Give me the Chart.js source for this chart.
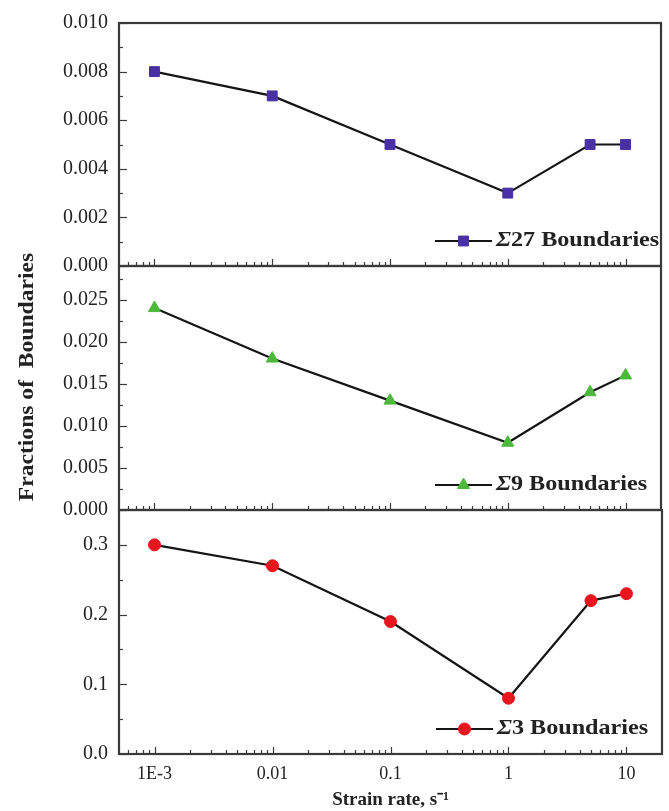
<!DOCTYPE html>
<html>
<head>
<meta charset="utf-8">
<script src="https://cdn.jsdelivr.net/npm/chart.js@4.4.0/dist/chart.umd.min.js"></script>
<style>
  html, body { margin: 0; padding: 0; background: #fff; }
  #wrap { position: relative; width: 669px; height: 811px; }
  #wrap canvas { position: absolute; left: 0; top: 0; }
</style>
</head>
<body>
<div id="wrap">
  <canvas id="c27" width="669" height="811"></canvas>
  <canvas id="c9" width="669" height="811"></canvas>
  <canvas id="c3" width="669" height="811"></canvas>
</div>
<script>
// strain rate, s^-1 (log axis)
var strainRates = [0.001, 0.01, 0.1, 1, 5, 10];

// fractions of boundaries, one array per panel
var sigma27 = [0.008, 0.007, 0.005, 0.003, 0.005, 0.005];
var sigma9 = [0.024, 0.018, 0.013, 0.008, 0.014, 0.016];
var sigma3 = [0.30, 0.27, 0.19, 0.08, 0.22, 0.23];

var xTickValues = [0.001, 0.01, 0.1, 1, 10];
var xTickLabels = ['1E-3', '0.01', '0.1', '1', '10'];
var yTicks27 = [0, 0.002, 0.004, 0.006, 0.008, 0.010];
var yTicks9 = [0, 0.005, 0.010, 0.015, 0.020, 0.025];
var yTicks3 = [0, 0.1, 0.2, 0.3];

var W = 669, H = 811;
var plotLeft = 119, plotRight = 663;
var xMin = 0.0005, xMax = 20;
var serif = '"Liberation Serif", "Times New Roman", serif';
var ink = '#222';

function line(ctx, x1, y1, x2, y2) {
    ctx.beginPath(); ctx.moveTo(x1, y1); ctx.lineTo(x2, y2); ctx.stroke();
}

// frame, inward ticks and the little legend in the corner
var panelDecor = {
    id: 'panelDecor',
    afterDraw: function (chart) {
        var ctx = chart.ctx, a = chart.chartArea;
        var xs = chart.scales.x, ys = chart.scales.y;
        ctx.save();
        ctx.strokeStyle = '#3a3a3a';
        ctx.lineWidth = 1.2;
        // log ticks along the bottom edge
        for (var e = -4; e <= 1; e++) {
            for (var k = 1; k <= 9; k++) {
                var v = k * Math.pow(10, e);
                if (v <= xs.min || v >= xs.max) continue;
                var px = Math.round(xs.getPixelForValue(v)) + 0.5;
                line(ctx, px, a.bottom, px, a.bottom - (k === 1 ? 7 : 4));
            }
        }
        // y ticks, major + half steps
        var step = ys.ticks[1].value - ys.ticks[0].value;
        ys.ticks.forEach(function (t) {
            var py = Math.round(ys.getPixelForValue(t.value)) + 0.5;
            line(ctx, a.left, py, a.left + 8, py);
            var mv = t.value + step / 2;
            if (mv < ys.max) {
                var my = Math.round(ys.getPixelForValue(mv)) + 0.5;
                line(ctx, a.left, my, a.left + 4, my);
            }
        });
        // frame
        ctx.lineWidth = 2.2;
        ctx.strokeStyle = '#3a3a3a';
        ctx.strokeRect(a.left, a.top, a.right - a.left, a.bottom - a.top);

        // legend
        var ds = chart.data.datasets[0];
        var ly = a.bottom - 25, lx0 = a.right - 226, lx1 = a.right - 169;
        ctx.strokeStyle = '#151515';
        ctx.lineWidth = 2;
        line(ctx, lx0, ly, lx1, ly);
        ctx.fillStyle = ds.pointBackgroundColor;
        ctx.strokeStyle = ds.pointBorderColor;
        ctx.lineWidth = 1;
        Chart.helpers.drawPoint(ctx, { pointStyle: ds.pointStyle, radius: ds.pointRadius, rotation: 0, borderWidth: 1 }, (lx0 + lx1) / 2, ly);
        // text is a bit wide in the original, stretch it
        ctx.translate(lx1 + 4, ly);
        ctx.scale(1.15, 1);
        ctx.fillStyle = ink;
        ctx.textBaseline = 'middle';
        ctx.textAlign = 'left';
        ctx.font = 'italic bold 21px ' + serif;
        ctx.fillText(ds.label.charAt(0), 0, 0);
        var tx = ctx.measureText(ds.label.charAt(0)).width;
        ctx.font = 'bold 21px ' + serif;
        ctx.fillText(ds.label.slice(1), tx, 0);
        ctx.restore();
    }
};

// shared y title across all three panels
var yTitle = {
    id: 'yTitle',
    afterDraw: function (chart) {
        var ctx = chart.ctx;
        ctx.save();
        ctx.translate(28, 377);
        ctx.rotate(-Math.PI / 2);
        ctx.scale(1.18, 1);
        ctx.fillStyle = ink;
        ctx.textAlign = 'center';
        ctx.textBaseline = 'middle';
        ctx.font = 'bold 20px ' + serif;
        ctx.fillText('Fractions of  Boundaries', 0, 0);
        ctx.restore();
    }
};

function makePanel(id, label, values, yTicks, yMax, decimals, top, bottom, marker, showX) {
    var data = strainRates.map(function (x, i) { return { x: x, y: values[i] }; });
    var extra = [panelDecor];
    if (showX) extra.push(yTitle);
    return new Chart(document.getElementById(id), {
        type: 'line',
        data: {
            datasets: [{
                label: label,
                data: data,
                borderColor: '#151515',
                borderWidth: 2.2,
                tension: 0,
                pointStyle: marker.shape,
                pointRadius: marker.radius,
                pointBackgroundColor: marker.color,
                pointBorderColor: marker.color,
                pointBorderWidth: 1
            }]
        },
        options: {
            responsive: false,
            animation: false,
            devicePixelRatio: 1,
            layout: { padding: { left: 0, right: W - plotRight, top: top, bottom: showX ? 0 : H - bottom } },
            plugins: { legend: { display: false }, tooltip: { enabled: false } },
            scales: {
                x: {
                    type: 'logarithmic',
                    min: xMin,
                    max: xMax,
                    display: showX,
                    grid: { display: false },
                    border: { display: false },
                    afterBuildTicks: function (s) {
                        s.ticks = xTickValues.map(function (v) { return { value: v }; });
                    },
                    ticks: {
                        autoSkip: false,
                        maxRotation: 0,
                        padding: 1,
                        color: ink,
                        font: { family: serif, size: 18 },
                        callback: function (v, i) { return xTickLabels[i]; }
                    },
                    title: {
                        display: true,
                        text: 'Strain rate, s\u207B\u00B9',
                        color: ink,
                        padding: { top: 0, bottom: 0 },
                        font: { family: serif, size: 19, weight: 'bold' }
                    },
                    afterFit: function (s) {
                        if (!showX) return;
                        s.height = H - bottom;
                        s.paddingLeft = 0;
                        s.paddingRight = 0;
                    }
                },
                y: {
                    min: 0,
                    max: yMax,
                    grid: { display: false },
                    border: { display: false },
                    afterBuildTicks: function (s) {
                        s.ticks = yTicks.map(function (v) { return { value: v }; });
                    },
                    ticks: {
                        padding: 3,
                        color: ink,
                        font: { family: serif, size: 20 },
                        callback: function (v) { return Number(v).toFixed(decimals); }
                    },
                    afterFit: function (s) {
                        s.width = plotLeft;
                        s.paddingTop = 0;
                        s.paddingBottom = 0;
                    }
                }
            }
        },
        plugins: extra
    });
}

makePanel('c27', '\u03A327 Boundaries', sigma27, yTicks27, 0.010, 3, 23, 266,
    { shape: 'rect', radius: 7, color: '#4a30a6' }, false);
makePanel('c9', '\u03A39 Boundaries', sigma9, yTicks9, 0.029, 3, 266, 510,
    { shape: 'triangle', radius: 7, color: '#4cb83c' }, false);
makePanel('c3', '\u03A33 Boundaries', sigma3, yTicks3, 0.35, 1, 510, 754,
    { shape: 'circle', radius: 6, color: '#e8141e' }, true);
</script>
</body>
</html>
